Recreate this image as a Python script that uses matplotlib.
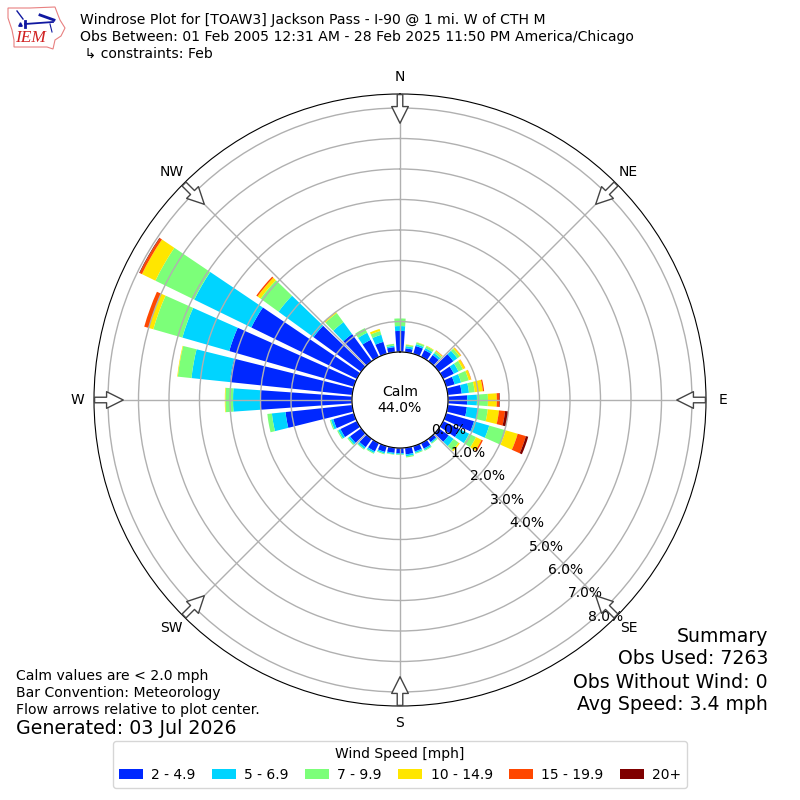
import numpy as np
import matplotlib
matplotlib.use("Agg")
import matplotlib.pyplot as plt
from matplotlib.patches import Polygon

directions = list(range(0, 360, 10))
speed_labels = ["2 - 4.9", "5 - 6.9", "7 - 9.9", "10 - 14.9", "15 - 19.9", "20+"]
colors = ["#0028ff", "#00d4ff", "#7cff79", "#ffe600", "#ff4700", "#7f0000"]

s1 = [.69,.13,.27,.25,.25,.59,.39,.29,.46,.63,.63,.95,.6,.4,.13,.2,.18,.22,
      .17,.17,.2,.3,.34,.45,.6,.7,2.2,3.0,4.03,4.25,3.85,1.93,1.1,.62,.41,.17]
s2 = [.16,.07,.06,.07,.08,.16,.17,.22,.24,.32,.37,.52,.35,.2,.04,.05,.05,.06,
      .04,.04,.05,.06,.07,.07,.08,.08,.45,.9,1.27,1.6,2.08,1.42,.48,.26,.24,.05]
s3 = [.25,.05,.06,.07,.07,.1,.16,.26,.19,.36,.32,.56,.25,.2,.03,.03,.03,.04,
      .02,.02,.03,.03,.03,.04,.04,.04,.15,.25,.45,.99,1.42,.73,.37,.17,.13,.06]
s4 = [0,.01,.01,.02,.03,.05,.08,.08,.27,.29,.37,.41,.2,.05,0,0,0,0,
      0,0,0,0,0,0,0,0,0,.02,.02,.16,.49,.12,.05,0,.07,0]
s5 = [0,0,0,0,.01,.01,.01,.01,.04,.08,.2,.28,.05,0,0,0,0,0,
      0,0,0,0,0,0,0,0,0,0,0,.15,.08,.05,0,0,0,0]
s6 = [0,0,0,0,0,0,0,0,0,.02,.11,.08,0,0,0,0,0,0,
      0,0,0,0,0,0,0,0,0,0,0,0,.02,0,0,0,0,0]
series = [s1, s2, s3, s4, s5, s6]

rticks = [0, 1, 2, 3, 4, 5, 6, 7, 8]
compass = ["N", "NE", "E", "SE", "S", "SW", "W", "NW"]
compass_deg = [0, 45, 90, 135, 180, 225, 270, 315]

title_lines = ["Windrose Plot for [TOAW3] Jackson Pass - I-90 @ 1 mi. W of CTH M",
               "Obs Between: 01 Feb 2005 12:31 AM - 28 Feb 2025 11:50 PM America/Chicago",
               " \u21b3 constraints: Feb"]
summary_lines = ["Summary", "Obs Used: 7263", "Obs Without Wind: 0", "Avg Speed: 3.4 mph"]
note_lines = ["Calm values are < 2.0 mph", "Bar Convention: Meteorology",
              "Flow arrows relative to plot center."]

fig = plt.figure(figsize=(8, 8), dpi=100)
ax = fig.add_axes([94/800, 94/800, 612/800, 612/800], projection="polar")
ax.set_theta_zero_location("N")
ax.set_theta_direction(-1)

theta = np.deg2rad(directions)
bottom = np.zeros(len(directions))
handles = []
for vals, col, lab in zip(series, colors, speed_labels):
    v = np.array(vals)
    b = ax.bar(theta, v, width=np.deg2rad(8), bottom=bottom, color=col, label=lab, linewidth=0)
    handles.append(b)
    bottom = bottom + v

ax.set_rorigin(-48/30.5)
ax.set_rmin(0)
ax.set_rmax(258/30.5)
ax.set_rticks(rticks)
ax.set_yticklabels([f"{t:.1f}%" for t in rticks], fontsize=10)
ax.set_rlabel_position(140)
ax.set_thetagrids(compass_deg, compass, fontsize=10)
ax.tick_params(axis="x", pad=1.8)
ax.grid(True, color="#b0b0b0", linewidth=1)

for d in compass_deg:
    ax.annotate("", xy=(np.deg2rad(d), 7.5), xytext=(np.deg2rad(d), 8.44),
                annotation_clip=False, zorder=6,
                arrowprops=dict(facecolor="white", edgecolor="#444444", linewidth=1,
                                width=4, headwidth=12, headlength=12, shrink=0))

ax.text(0.5, 0.5, "Calm\n44.0%", transform=ax.transAxes, ha="center", va="center",
        fontsize=10.1, zorder=7)

def fx(px):
    return px / 800
def fy(py):
    return 1 - py / 800

for t, y in zip(title_lines, [20, 37, 54]):
    fig.text(fx(80), fy(y), t, fontsize=10.1, va="center", ha="left")
for t, y in zip(summary_lines, [636, 659, 682, 705]):
    fig.text(fx(768), fy(y), t, fontsize=13.6, va="center", ha="right")
for t, y in zip(note_lines, [676, 693, 710]):
    fig.text(fx(16), fy(y), t, fontsize=10.05, va="center", ha="left")
fig.text(fx(16), fy(729), "Generated: 03 Jul 2026", fontsize=13.7, va="center", ha="left")

leg = fig.legend(handles=handles, labels=speed_labels, title="Wind Speed [mph]", ncol=6,
                 loc="center", bbox_to_anchor=(400/800, 1 - 764.5/800), fontsize=10,
                 handlelength=1.75, handletextpad=0.6, columnspacing=1.15, title_fontsize=10,
                 borderpad=0.42)

# IEM logo
logo = fig.add_axes([0, 1 - 60/800, 70/800, 60/800])
logo.set_xlim(0, 70)
logo.set_ylim(60, 0)
logo.axis("off")
logo.add_patch(Polygon([(8, 8), (30, 8), (55, 7), (58, 15), (60, 20), (65, 28), (61, 36), (55, 40),
                        (53, 49), (47, 47), (14, 47), (14, 40), (12, 30), (8, 18)],
                       closed=True, facecolor="white", edgecolor="#e88080", linewidth=0.8))
logo.plot([25, 53], [24, 22], color="#1018a0", lw=1.3)
logo.plot([25, 25], [21, 27], color="#1018a0", lw=2)
logo.plot([17, 23], [11, 19], color="#1018a0", lw=1)
logo.plot([40, 54], [15, 20], color="#1018a0", lw=2)
logo.plot([50, 52], [24, 32], color="#1018a0", lw=0.8)
logo.plot([20], [24], marker="^", color="#1018a0", ms=2.5)
logo.text(30.5, 38, "IEM", color="#d02020", family="Liberation Serif", style="italic",
          fontsize=12.5, ha="center", va="center")

fig.savefig("out.png", dpi=100)
